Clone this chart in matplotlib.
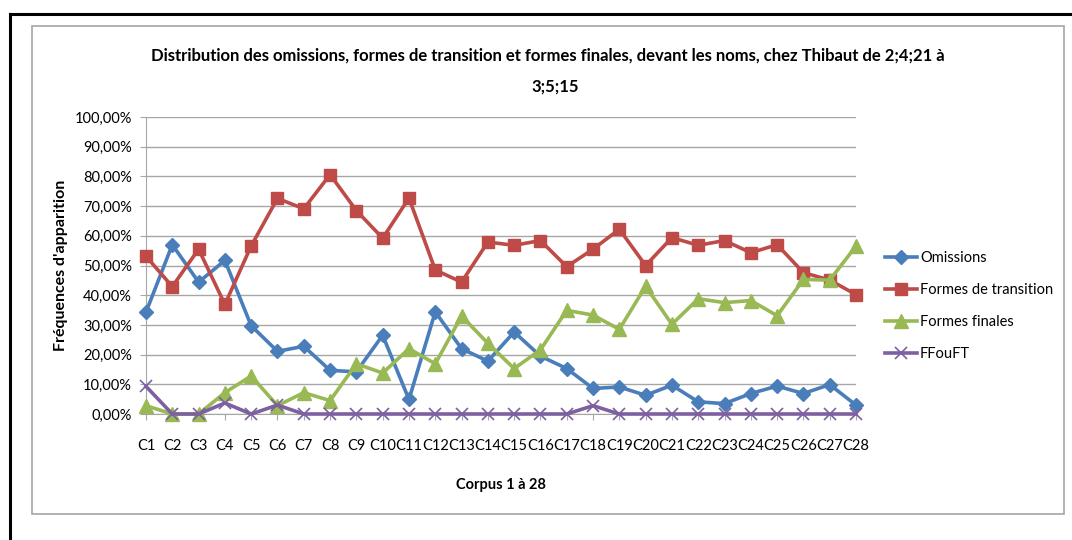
import matplotlib
matplotlib.use("Agg")
import matplotlib.pyplot as plt
from matplotlib.patches import Rectangle
from matplotlib.lines import Line2D
from matplotlib.ticker import FuncFormatter, MultipleLocator

plt.rcParams['font.family'] = ['Lato', 'DejaVu Sans']

# Données (en %)
categories = ["C%d" % i for i in range(1, 29)]
omissions = [34.3, 57.0, 44.4, 51.7, 29.7, 21.1, 22.8, 14.7, 14.2, 26.5, 4.9, 34.4, 22.0, 17.8,
             27.6, 19.5, 15.3, 8.6, 9.1, 6.3, 9.7, 4.1, 3.5, 6.9, 9.4, 6.9, 9.9, 3.0]
transition = [53.1, 42.9, 55.5, 36.9, 56.6, 72.6, 69.1, 80.6, 68.5, 59.2, 72.7, 48.5, 44.4, 57.9,
              56.8, 58.4, 49.6, 55.5, 62.2, 50.0, 59.4, 56.8, 58.4, 54.3, 57.0, 47.6, 45.1, 40.2]
finales = [2.8, 0.0, 0.0, 7.2, 12.8, 2.8, 7.2, 4.5, 16.9, 13.8, 22.0, 16.9, 33.0, 23.8,
           15.3, 21.6, 34.9, 33.3, 28.5, 43.0, 30.2, 38.8, 37.5, 38.2, 33.1, 45.3, 45.1, 56.5]
ffouft = [9.3, 0.0, 0.0, 3.7, 0.0, 3.0, 0.0, 0.0, 0.0, 0.0, 0.0, 0.0, 0.0, 0.0,
          0.0, 0.0, 0.0, 2.8, 0.0, 0.0, 0.0, 0.0, 0.0, 0.0, 0.0, 0.0, 0.0, 0.0]

series = [
    ("Omissions", omissions, "#4A7EBB", "D", 7.5),
    ("Formes de transition", transition, "#BE4B48", "s", 9),
    ("Formes finales", finales, "#98B954", "^", 10),
    ("FFouFT", ffouft, "#7D60A0", "x", 8),
]

fig = plt.figure(figsize=(10.72, 5.40), dpi=100)
W, H = 1072.0, 540.0

# cadres
fig.add_artist(Line2D([10 / W, 10 / W], [0, 1 - 14 / H], color="black", lw=2.2))
fig.add_artist(Line2D([10 / W, 1], [1 - 14 / H, 1 - 14 / H], color="black", lw=2.2))
fig.add_artist(Rectangle((32 / W, 1 - 514 / H), (1064 - 32) / W, (514 - 26) / H,
                         fill=False, edgecolor="#A6A6A6", lw=1.2))

ax = fig.add_axes([146 / W, 1 - 414 / H, (856 - 146) / W, (414 - 117) / H])

x = list(range(len(categories)))
for name, vals, col, mk, ms in series:
    kw = dict(markeredgewidth=1.2) if mk == "x" else dict(markeredgecolor=col)
    ax.plot(x, vals, color=col, lw=2.6, marker=mk, markersize=ms, label=name,
            markerfacecolor=col, clip_on=False, zorder=3, **kw)

ax.set_xlim(0, len(categories) - 1)
ax.set_ylim(0, 100)
ax.yaxis.set_major_locator(MultipleLocator(10))
ax.yaxis.set_major_formatter(FuncFormatter(lambda v, p: ("%.2f%%" % v).replace(".", ",")))
ax.set_xticks(x)
ax.set_xticklabels(categories)
ax.grid(axis="y", color="#A6A6A6", lw=1)
ax.set_axisbelow(True)
for s in ["top", "right"]:
    ax.spines[s].set_visible(False)
for s in ["left", "bottom"]:
    ax.spines[s].set_color("#A6A6A6")
ax.tick_params(axis="both", colors="#A6A6A6", labelcolor="black", labelsize=10.5, length=4)
ax.tick_params(axis="x", pad=14)
ax.tick_params(axis="y", pad=6)

ax.set_xlabel("Corpus 1 à 28", fontsize=10.5, fontweight="bold", labelpad=18)
ax.set_ylabel("Fréquences d'apparition", fontsize=11.5, fontweight="bold", labelpad=5)

fig.text(548 / W, 1 - 56 / H,
         "Distribution des omissions, formes de transition et formes finales, devant les noms, chez Thibaut de 2;4;21 à",
         ha="center", va="center", fontsize=12, fontweight="bold")
fig.text(555 / W, 1 - 87 / H, "3;5;15", ha="center", va="center", fontsize=12, fontweight="bold")

ax.legend(loc="center left", bbox_to_anchor=(885 / W, 1 - 306 / H), bbox_transform=fig.transFigure,
          frameon=False, fontsize=10.5, handlelength=2.2, handletextpad=0.2, labelspacing=1.25,
          borderpad=0, borderaxespad=0)

fig.savefig("out.png", dpi=100)
